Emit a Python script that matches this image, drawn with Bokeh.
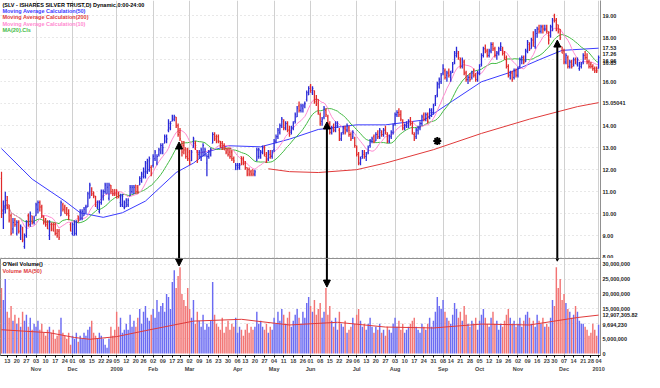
import numpy as np
import pandas as pd
from bokeh.plotting import figure
from bokeh.layouts import column
from bokeh.models import Range1d, FixedTicker, Label, Arrow, NormalHead, LinearAxis, ColumnDataSource
from bokeh.embed import file_html
from bokeh.resources import INLINE

FONT = "Liberation Sans"

# ---------------- data ----------------
first_day, last_day = "2008-10-08", "2010-01-04"
holidays = ["2008-11-27", "2008-12-25", "2009-01-01", "2009-01-19", "2009-02-16", "2009-04-10",
            "2009-05-25", "2009-07-03", "2009-09-07", "2009-11-26", "2009-12-25", "2010-01-01"]

open_ = [11.6, 10.0, 10.2,
         10.6, 10.4, 9.9, 9.3, 9.7,   9.1, 9.6, 8.9, 9.3, 8.5,   9.0, 9.9, 9.5, 9.9, 9.6,
         9.9, 10.2, 10.5, 10.3, 9.9,   9.7, 9.6, 9.0, 9.5, 9.5,   9.5, 9.1, 9.2, 9.9, 10.4,   10.3, 10.2, 10.0, 9.5,
         9.1, 9.0, 9.1, 9.9, 9.7,   9.8, 9.9, 10.3, 10.3, 10.7,   11.0, 11.0, 10.8, 10.3, 10.1,   10.5, 10.8, 11.0, 10.9,
         10.7, 11.3, 11.1, 11.1,
         11.1, 10.9, 10.5, 10.4, 10.3,   10.3, 10.4, 10.8, 11.0, 10.9,   11.3, 11.2, 11.3, 11.5,   11.7, 11.7, 11.9, 12.0, 12.1,
         12.2, 12.5, 12.3, 12.7, 12.8,   12.9, 13.2, 13.3, 13.8, 13.9,   14.2, 14.3, 14.4, 14.0,   13.7, 13.3, 13.1, 13.0, 12.9,
         12.8, 12.4, 13.0, 13.2, 12.8,   12.7, 12.6, 12.8, 12.8, 12.3,   12.6, 12.7, 13.2, 13.6, 13.5,   13.5, 13.3, 13.2, 13.1, 13.0,
         12.9, 12.8, 12.8, 12.5, 12.0,   12.0, 12.1, 12.6, 12.5,   12.3, 12.1, 12.0, 11.9, 12.0,   11.8, 12.4, 12.6, 12.6, 12.8,
         13.0, 12.6, 12.5, 12.7, 12.6,   12.9, 13.3, 13.5, 13.7, 14.0,   14.2, 13.9, 14.1, 13.8, 13.7,   13.9, 14.2, 14.4, 14.9, 14.7,
         14.8, 15.0, 15.2, 15.4,   15.8, 15.5, 15.6, 15.2, 15.2,   14.5, 14.2, 14.4, 14.7, 14.4,   14.1, 13.7, 13.9, 13.8, 14.0,
         13.8, 13.4, 13.7, 13.9, 13.8,   13.9, 13.6, 13.5, 13.4,   13.0, 12.7, 12.3, 12.6, 12.7,   12.6, 12.8, 13.1, 13.3, 13.5,
         13.3, 13.6, 13.5, 13.7, 13.6,   13.8, 13.6, 13.3, 13.5, 13.7,   14.1, 14.5, 14.6, 14.5, 14.2,   13.9, 14.0, 14.0, 14.2, 14.1,
         13.6, 13.5, 13.8, 13.9, 14.1,   14.5, 14.3, 14.5, 14.4, 14.6,   14.6, 15.0, 15.4, 15.9, 16.0,   16.4, 16.5, 16.3, 16.4,
         16.2, 16.5, 16.9, 17.2, 17.3,   17.0, 16.7, 16.9, 16.4, 16.1,   16.2, 16.2, 16.4, 16.3, 16.1,   16.4, 16.8, 17.2, 17.5, 17.4,
         17.2, 17.4, 17.7, 17.5, 17.2,   17.3, 17.5, 17.5, 17.3, 17.0,   16.7, 16.3, 16.4, 16.2, 16.5,   16.3, 16.7, 17.0, 17.1, 16.9,
         17.4, 17.7, 17.5, 17.9, 17.6,   18.2, 18.4, 18.3, 18.5, 18.4,   18.4, 18.1, 18.1, 18.5,   19.0, 18.8, 18.6, 18.4, 17.6,
         17.4, 16.9, 17.1, 16.7, 16.9,   16.8, 17.0, 16.8, 16.6, 16.7,   16.9, 17.2, 17.1, 16.9,   16.8, 16.7, 16.6, 16.6,   16.6]
high = [11.9, 10.6, 11.0,
        10.8, 10.4, 10.0, 9.8, 9.8,   9.7, 9.7, 9.5, 9.4, 9.1,   9.7, 10.0, 10.1, 9.9, 9.9,
        10.5, 10.6, 10.6, 10.4, 9.9,   9.8, 9.7, 9.7, 9.6, 9.6,   9.6, 9.3, 9.3, 10.6, 10.5,   10.4, 10.3, 10.2, 9.6,
        9.6, 9.7, 9.7, 9.9, 10.2,   10.2, 10.3, 10.4, 11.0, 11.4,   11.2, 11.0, 10.8, 10.6, 10.6,   11.1, 11.1, 11.4, 11.4,
        11.4, 11.3, 11.1, 11.1,
        11.1, 11.0, 10.9, 10.9, 10.6,   10.7, 10.7, 11.3, 11.3, 11.3,   11.3, 11.3, 11.7, 11.9,   12.1, 12.4, 12.5, 12.6, 12.2,
        12.7, 12.9, 12.7, 13.0, 13.2,   13.2, 13.6, 13.6, 14.3, 14.2,   14.5, 14.5, 14.4, 14.1,   13.9, 13.3, 13.3, 13.0, 13.0,
        12.9, 12.9, 13.5, 13.3, 12.9,   12.9, 13.0, 13.2, 13.0, 12.7,   12.9, 13.0, 13.7, 13.7, 13.6,   13.6, 13.3, 13.3, 13.2, 13.0,
        13.0, 13.0, 12.9, 12.6, 12.3,   12.3, 12.3, 12.6, 12.6,   12.4, 12.1, 12.1, 12.0, 12.0,   12.0, 13.0, 13.0, 12.9, 13.1,
        13.1, 12.8, 12.9, 12.9, 12.9,   13.4, 13.6, 13.9, 14.1, 14.4,   14.3, 14.2, 14.2, 14.0, 14.0,   14.2, 14.6, 14.9, 15.1, 15.0,
        15.0, 15.1, 15.6, 15.8,   15.9, 15.8, 15.6, 15.4, 15.2,   14.6, 14.4, 14.9, 14.8, 14.5,   14.2, 14.0, 14.1, 14.2, 14.2,
        13.9, 13.7, 14.0, 14.0, 14.1,   14.0, 13.7, 13.8, 13.5,   13.1, 12.8, 12.6, 12.9, 12.9,   12.8, 13.1, 13.4, 13.5, 13.6,
        13.7, 13.8, 13.9, 13.8, 13.9,   14.0, 13.7, 13.6, 13.8, 14.1,   14.6, 14.7, 14.8, 14.7, 14.3,   14.1, 14.2, 14.3, 14.4, 14.2,
        13.7, 13.9, 14.0, 14.2, 14.5,   14.6, 14.6, 14.6, 14.8, 14.8,   15.0, 15.4, 16.0, 16.2, 16.4,   16.8, 16.6, 16.5, 16.6,
        16.5, 16.9, 17.4, 17.6, 17.4,   17.1, 17.1, 17.0, 16.5, 16.3,   16.4, 16.5, 16.6, 16.4, 16.5,   16.8, 17.3, 17.6, 17.7, 17.5,
        17.5, 17.8, 17.8, 17.6, 17.4,   17.6, 17.8, 17.6, 17.4, 17.2,   16.8, 16.5, 16.5, 16.6, 16.6,   16.7, 17.1, 17.2, 17.2, 17.5,
        17.9, 17.8, 18.0, 18.3, 18.4,   18.5, 18.6, 18.6, 18.6, 18.6,   18.6, 18.3, 18.6, 18.9,   19.1, 18.9, 18.6, 18.4, 17.6,
        17.5, 17.3, 17.2, 17.0, 17.0,   17.1, 17.1, 17.1, 16.9, 16.9,   17.3, 17.4, 17.3, 17.0,   16.9, 16.8, 16.7, 16.7,   17.2]
low = [9.8, 9.3, 10.0,
       10.2, 9.6, 9.0, 9.1, 9.4,   9.0, 9.1, 8.8, 8.7, 8.4,   8.9, 9.4, 9.4, 9.5, 9.5,
       9.9, 10.0, 10.1, 9.8, 9.5,   9.4, 9.3, 8.8, 9.2, 9.2,   9.0, 8.9, 8.8, 9.9, 10.1,   10.0, 9.9, 9.7, 9.2,
       9.0, 9.0, 9.0, 9.6, 9.7,   9.7, 9.9, 10.0, 10.3, 10.7,   10.8, 10.7, 10.3, 10.2, 10.0,   10.4, 10.6, 10.9, 10.9,
       10.6, 10.9, 10.8, 10.8,
       10.7, 10.7, 10.3, 10.3, 10.2,   10.3, 10.3, 10.8, 10.9, 10.9,   10.9, 10.9, 11.3, 11.4,   11.6, 11.6, 11.8, 11.9, 11.7,
       12.1, 12.4, 12.2, 12.6, 12.7,   12.7, 13.2, 13.2, 13.7, 13.8,   14.2, 14.2, 13.9, 13.5,   13.3, 12.6, 12.7, 12.5, 12.4,
       12.2, 12.4, 13.0, 12.9, 12.3,   12.5, 12.4, 12.6, 12.6, 11.7,   12.5, 12.6, 13.2, 13.3, 13.2,   13.2, 13.0, 12.9, 12.9, 12.7,
       12.6, 12.5, 12.4, 12.3, 12.0,   12.0, 12.0, 12.2, 12.2,   12.0, 11.7, 11.7, 11.7, 11.7,   11.7, 12.4, 12.5, 12.5, 12.7,
       12.6, 12.3, 12.4, 12.5, 12.5,   12.8, 13.2, 13.4, 13.6, 13.9,   13.8, 13.8, 13.7, 13.5, 13.6,   13.8, 14.1, 14.4, 14.6, 14.6,
       14.6, 14.8, 15.1, 15.4,   15.5, 15.4, 15.0, 14.9, 14.5,   14.0, 14.0, 14.3, 14.4, 14.0,   13.6, 13.6, 13.7, 13.7, 13.9,
       13.3, 13.3, 13.6, 13.6, 13.7,   13.5, 13.3, 13.4, 13.0,   12.6, 12.2, 12.2, 12.5, 12.5,   12.4, 12.7, 13.0, 13.2, 13.2,
       13.3, 13.4, 13.4, 13.5, 13.5,   13.6, 13.2, 13.2, 13.4, 13.6,   14.0, 14.4, 14.4, 14.2, 13.8,   13.8, 13.9, 13.9, 14.0, 13.6,
       13.3, 13.4, 13.6, 13.8, 14.0,   14.2, 14.2, 14.1, 14.3, 14.4,   14.5, 14.9, 15.3, 15.7, 15.9,   16.3, 16.1, 16.0, 16.2,
       16.0, 16.4, 16.8, 17.1, 17.0,   16.6, 16.6, 16.3, 16.0, 15.9,   16.0, 16.1, 16.2, 16.0, 16.0,   16.3, 16.7, 17.1, 17.3, 17.1,
       17.1, 17.3, 17.4, 17.1, 17.0,   17.2, 17.4, 17.2, 17.0, 16.6,   16.2, 16.1, 16.0, 16.1, 16.2,   16.2, 16.6, 16.8, 16.8, 16.9,
       17.3, 17.4, 17.5, 17.6, 17.5,   18.0, 18.2, 18.2, 18.2, 18.3,   18.2, 17.7, 18.0, 18.3,   18.7, 18.3, 18.2, 17.9, 17.3,
       16.8, 16.8, 16.6, 16.6, 16.6,   16.7, 16.8, 16.7, 16.5, 16.6,   16.8, 17.0, 16.8, 16.6,   16.6, 16.5, 16.4, 16.4,   16.6]
close = [10.1, 10.3, 10.8,
         10.3, 9.7, 9.1, 9.6, 9.5,   9.6, 9.2, 9.4, 8.8, 9.0,   9.6, 9.5, 10.0, 9.6, 9.8,
         10.4, 10.5, 10.3, 9.9, 9.6,   9.5, 9.3, 9.6, 9.3, 9.2,   9.1, 9.0, 8.9, 10.5, 10.2,   10.0, 10.0, 9.9, 9.2,
         9.5, 9.6, 9.6, 9.7, 10.1,   10.1, 10.2, 10.3, 10.9, 11.3,   10.9, 10.8, 10.4, 10.5, 10.5,   11.0, 11.0, 11.3, 11.2,
         11.3, 11.0, 10.9, 10.9,
         10.7, 10.8, 10.8, 10.8, 10.5,   10.6, 10.6, 11.2, 11.2, 11.2,   11.0, 11.0, 11.6, 11.8,   11.9, 12.3, 12.4, 12.5, 11.8,
         12.6, 12.8, 12.6, 12.9, 13.1,   13.0, 13.5, 13.4, 14.1, 14.1,   14.4, 14.4, 14.0, 13.6,   13.4, 12.8, 12.9, 12.6, 12.5,
         12.3, 12.8, 13.4, 13.1, 12.4,   12.8, 12.9, 13.1, 12.9, 12.6,   12.8, 12.9, 13.6, 13.4, 13.3,   13.3, 13.0, 13.0, 12.9, 12.8,
         12.7, 12.6, 12.5, 12.4, 12.2,   12.2, 12.2, 12.3, 12.3,   12.1, 11.8, 11.8, 11.8, 11.8,   11.9, 12.9, 12.9, 12.8, 13.0,
         12.7, 12.4, 12.8, 12.6, 12.8,   13.3, 13.5, 13.8, 14.0, 14.3,   13.9, 14.1, 13.8, 13.6, 13.9,   14.1, 14.5, 14.8, 14.7, 14.9,
         14.9, 15.0, 15.5, 15.7,   15.6, 15.7, 15.1, 15.0, 14.6,   14.1, 14.3, 14.8, 14.5, 14.1,   13.7, 13.9, 13.8, 14.1, 14.0,
         13.4, 13.6, 13.9, 13.7, 14.0,   13.6, 13.4, 13.7, 13.1,   12.7, 12.3, 12.5, 12.8, 12.6,   12.7, 13.0, 13.3, 13.4, 13.3,
         13.6, 13.5, 13.8, 13.6, 13.8,   13.7, 13.3, 13.5, 13.7, 14.0,   14.5, 14.6, 14.5, 14.3, 13.9,   14.0, 14.1, 14.2, 14.1, 13.7,
         13.4, 13.8, 13.9, 14.1, 14.4,   14.3, 14.5, 14.2, 14.7, 14.6,   14.9, 15.3, 15.9, 16.1, 16.3,   16.6, 16.2, 16.4, 16.3,
         16.4, 16.8, 17.3, 17.4, 17.1,   16.7, 17.0, 16.4, 16.1, 16.2,   16.1, 16.4, 16.3, 16.1, 16.4,   16.7, 17.2, 17.5, 17.4, 17.2,
         17.4, 17.7, 17.5, 17.2, 17.3,   17.5, 17.6, 17.3, 17.1, 16.7,   16.3, 16.4, 16.1, 16.5, 16.3,   16.6, 17.0, 17.1, 16.9, 17.4,
         17.8, 17.5, 17.9, 17.8, 18.3,   18.4, 18.3, 18.5, 18.4, 18.4,   18.3, 17.9, 18.5, 18.8,   18.8, 18.4, 18.3, 18.0, 17.3,
         16.9, 17.2, 16.7, 16.9, 16.7,   17.0, 16.9, 17.0, 16.8, 16.8,   17.2, 17.1, 16.9, 16.7,   16.7, 16.6, 16.5, 16.5,   17.1]
volume_m = [22, 18, 25,
            14, 12, 16, 11, 13,   10, 12, 9, 14, 11,   13, 9, 12, 8, 10,
            9, 11, 8, 10, 7,   6, 8, 9, 7, 8,   5, 6, 8, 12, 7,   6, 5, 7, 3,
            6, 5, 7, 4, 6,   5, 7, 6, 8, 9,   11, 7, 6, 5, 7,   6, 5, 3, 2,
            5, 9, 6, 8,
            14, 9, 12, 7, 8,   10, 8, 13, 9, 11,   9, 12, 15, 10,   14, 16, 12, 11, 13,
            15, 12, 18, 14, 16,   17, 14, 20, 19, 15,   24, 28, 22, 26,   29, 20, 18, 16, 22,
            15, 12, 18, 10, 14,   11, 9, 13, 8, 10,   9, 11, 24, 13, 10,   9, 8, 12, 7, 9,
            11, 8, 10, 9, 12,   7, 9, 8, 6,   8, 10, 7, 9, 8,   9, 14, 10, 11, 9,
            8, 10, 7, 9, 8,   12, 10, 14, 11, 15,   13, 10, 12, 14, 9,   11, 13, 15, 12, 10,
            14, 12, 17, 19,   16, 14, 18, 13, 15,   17, 12, 14, 22, 13,   16, 11, 9, 12, 8,
            14, 10, 9, 11, 7,   8, 9, 12, 10,   13, 15, 11, 9, 10,   8, 10, 12, 9, 7,
            9, 8, 10, 7, 8,   6, 9, 8, 7, 10,   12, 9, 11, 8, 10,   7, 8, 9, 10, 11,
            12, 9, 8, 7, 10,   9, 8, 10, 12, 9,   11, 14, 19, 16, 15,   18, 14, 12, 11,
            10, 13, 17, 15, 12,   14, 11, 16, 13, 10,   9, 11, 10, 12, 8,   11, 13, 15, 12, 10,
            9, 12, 14, 10, 11,   8, 10, 9, 11, 13,   15, 12, 10, 11, 9,   10, 12, 9, 11, 13,
            14, 12, 10, 11, 9,   13, 11, 10, 12, 9,   10, 9, 12, 18,   16, 29, 22, 25, 18,
            20, 17, 15, 14, 12,   13, 16, 14, 11, 10,   10, 9, 8, 6,   7, 10, 8, 6,   9.694230]

# long moving averages (bar number, value)
ma50_bar = [0, 16, 33, 41, 53, 63, 75, 91, 100, 108, 118, 135, 150, 165, 185, 200, 220, 235, 250, 265, 280, 292, 311]
ma50_val = [12.96, 11.57, 10.57, 10.04, 9.83, 10.04, 10.57, 11.87, 12.3, 12.83, 13.09, 13.04, 13.39, 13.83,
            14.04, 14.04, 14.26, 15.13, 16.0, 16.43, 17.0, 17.43, 17.53]
ma200_bar = [139, 150, 165, 185, 200, 225, 250, 275, 300, 311]
ma200_val = [12.04, 11.91, 11.87, 12.0, 12.3, 12.91, 13.65, 14.3, 14.87, 15.05041]
vma_bar = [0, 25, 38, 46, 60, 75, 100, 125, 150, 175, 200, 225, 250, 275, 300, 311]
vma_val = [8.0, 7.0, 5.4, 4.8, 5.7, 7.7, 10.9, 11.5, 9.6, 10.5, 8.9, 8.6, 9.9, 9.6, 12.1, 12.907305]

arrow_bar = [92.5, 169.5, 289.5]
arrow_price = [13.26, 14.17, 17.9]
arrow_vol_m = [29.4, 22.3, 31.0]
star_bar = [227]
star_price = [13.3]

price_ticks = [8, 9, 10, 11, 12, 13, 14, 16, 18, 19]
last_values = [17.53, 17.26, 16.96, 16.85, 15.05041]
vol_ticks_m = [0, 5, 15, 20, 25, 30]
vol_last = [12907305.82, 9694230]

legend_lines = ["(SLV - ISHARES SILVER TRUST,D) Dynamic,0:00-24:00", "Moving Average Calculation(50)",
                "Moving Average Calculation(200)", "Moving Average Calculation(10)", "MA(20).Cls"]

# ---------------- build ----------------
dates = pd.bdate_range(first_day, last_day)
dates = dates[~dates.isin(pd.to_datetime(holidays))]
N = min(len(dates), len(open_), len(high), len(low), len(close), len(volume_m))
o = np.array(open_[:N]); h = np.array(high[:N]); l = np.array(low[:N]); c = np.array(close[:N])
vol = np.array(volume_m[:N]) * 1e6
x = np.arange(N)

BLUE = "#2a2ad8"; RED = "#e02a2a"
VBLUE = "#6b6bf2"; VRED = "#f27474"
MA50C = "#3b3bff"; MA200C = "#e03a3a"; MA10C = "#ff8ad0"; MA20C = "#44bb44"
GRID = "#d0d0d0"
FS = "5.5px"

up = c >= o
src = ColumnDataSource(dict(x=x, xl=x - 0.45, xr=x + 0.45, o=o, h=h, l=l, c=c, vol=vol,
                            col=np.where(up, BLUE, RED), vcol=np.where(up, VBLUE, VRED)))

ma10 = pd.Series(c).rolling(10, min_periods=1).mean().values
ma20 = pd.Series(c).rolling(20, min_periods=1).mean().values

wk = dates[:N].to_period("W")
week_ticks = [i for i in range(1, N) if wk[i] != wk[i - 1]]
month_ticks = [week_ticks[k] for k in range(1, len(week_ticks))
               if dates[week_ticks[k]].month != dates[week_ticks[k - 1]].month]
week_labels = {int(i): dates[i].strftime("%d") for i in week_ticks}
month_labels = {int(i): (str(dates[i].year) if dates[i].month == 1 else dates[i].strftime("%b")) for i in month_ticks}

FRAME_W = 600
P_H = 258
V_H = 97
RIGHT = 40
xr = Range1d(-0.5, 312.0)
P_LO, P_HI = 7.957, 19.70
V_LO, V_HI = -0.64e6, 31.9e6


def style_value_axis(ax):
    ax.major_label_text_font = FONT
    ax.major_label_text_font_size = FS
    ax.major_label_text_font_style = "bold"
    ax.major_label_text_color = "#222222"
    ax.major_tick_out = 0
    ax.major_tick_in = 0
    ax.minor_tick_out = 0
    ax.minor_tick_in = 0
    ax.major_label_standoff = 2
    ax.axis_line_color = "#909090"


p = figure(frame_width=FRAME_W, frame_height=P_H, x_range=xr, y_range=Range1d(P_LO, P_HI),
           y_axis_location="right", output_backend="svg", toolbar_location=None,
           min_border_left=0, min_border_right=RIGHT, min_border_top=0, min_border_bottom=0)
p.xaxis.visible = False
p.outline_line_color = None

yax = p.yaxis[0]
yax.ticker = FixedTicker(ticks=price_ticks + last_values)
ov = {t: f"{t:.2f}" for t in price_ticks}
for t in last_values:
    ov[t] = f"{t}"
yax.major_label_overrides = ov
style_value_axis(yax)

p.xgrid.ticker = FixedTicker(ticks=month_ticks)
p.xgrid.grid_line_color = GRID
p.ygrid.ticker = FixedTicker(ticks=price_ticks + [15, 17])
p.ygrid.grid_line_color = GRID
p.ygrid.grid_line_dash = "1 3"

# moving averages
p.line(ma200_bar, ma200_val, line_color=MA200C, line_width=1)
p.line(ma50_bar, ma50_val, line_color=MA50C, line_width=1)
p.line(x, ma20, line_color=MA20C, line_width=1)
p.line(x, ma10, line_color=MA10C, line_width=1)

# OHLC bars
p.segment("x", "l", "x", "h", line_color="col", line_width=1.3, source=src)
p.segment("xl", "o", "x", "o", line_color="col", line_width=1, source=src)
p.segment("x", "c", "xr", "c", line_color="col", line_width=1, source=src)

p.scatter(star_bar, star_price, marker="asterisk", size=8, line_color="black", line_width=2)

ppu = P_H / (P_HI - P_LO)
leg_cols = ["black", MA50C, MA200C, MA10C, MA20C]
for k, (txt, col) in enumerate(zip(legend_lines, leg_cols)):
    p.add_layout(Label(x=0.5, y=P_HI - (4 + 6.4 * k) / ppu, text=txt, text_color=col,
                       text_font=FONT, text_font_size=FS, text_font_style="bold",
                       text_baseline="middle", text_align="left"))

for b, pv in zip(arrow_bar, arrow_price):
    p.add_layout(Arrow(end=NormalHead(size=7, fill_color="black", line_color="black"),
                       x_start=b, y_start=P_LO, x_end=b, y_end=pv, line_width=2, line_color="black"))

# ---------------- volume panel ----------------
v = figure(frame_width=FRAME_W, frame_height=V_H, x_range=xr, y_range=Range1d(V_LO, V_HI),
           y_axis_location="right", output_backend="svg", toolbar_location=None,
           min_border_left=0, min_border_right=RIGHT, min_border_top=0, min_border_bottom=0)
v.outline_line_color = "#909090"
v.vbar(x="x", top="vol", bottom=0, width=0.75, fill_color="vcol", line_color=None, source=src)
v.line(vma_bar, np.array(vma_val) * 1e6, line_color=MA200C, line_width=1)
for b, vv in zip(arrow_bar, arrow_vol_m):
    v.add_layout(Arrow(end=NormalHead(size=7, fill_color="black", line_color="black"),
                       x_start=b, y_start=V_HI, x_end=b, y_end=vv * 1e6, line_width=2, line_color="black"))
vpu = V_H / (V_HI - V_LO)
v.add_layout(Label(x=0.5, y=V_HI - 5.5 / vpu, text="O'Neil Volume()", text_color="black",
                   text_font=FONT, text_font_size=FS, text_font_style="bold", text_baseline="middle"))
v.add_layout(Label(x=0.5, y=V_HI - 12 / vpu, text="Volume MA(50)", text_color=MA200C,
                   text_font=FONT, text_font_size=FS, text_font_style="bold", text_baseline="middle"))

vax = v.yaxis[0]
vt = [t * 1e6 for t in vol_ticks_m] + vol_last
vax.ticker = FixedTicker(ticks=vt)
vov = {t * 1e6: f"{int(t * 1e6):,}" for t in vol_ticks_m}
vov[vol_last[0]] = f"{vol_last[0]:,.2f}"
vov[vol_last[1]] = f"{int(vol_last[1]):,}"
vax.major_label_overrides = vov
style_value_axis(vax)

v.xgrid.ticker = FixedTicker(ticks=month_ticks)
v.xgrid.grid_line_color = GRID
v.ygrid.ticker = FixedTicker(ticks=[5e6, 10e6, 15e6, 20e6, 25e6, 30e6])
v.ygrid.grid_line_color = GRID
v.ygrid.grid_line_dash = "1 3"

dax = v.xaxis[0]
dax.ticker = FixedTicker(ticks=week_ticks)
dax.major_label_overrides = week_labels
dax.major_label_text_font = FONT
dax.major_label_text_font_size = FS
dax.major_label_text_font_style = "bold"
dax.major_label_standoff = 1
dax.major_tick_out = 2
dax.major_tick_in = 0
dax.minor_tick_out = 0
dax.minor_tick_in = 0
dax.axis_line_color = "#222222"

max_ = LinearAxis(ticker=FixedTicker(ticks=month_ticks), major_label_overrides=month_labels,
                  major_label_text_font=FONT, major_label_text_font_size=FS,
                  major_label_text_font_style="bold", major_label_standoff=0,
                  major_tick_out=0, major_tick_in=0, minor_tick_out=0, minor_tick_in=0,
                  axis_line_color=None)
v.add_layout(max_, "below")

layout = column(p, v, spacing=0)
open("out.html", "w").write(file_html(layout, INLINE))
